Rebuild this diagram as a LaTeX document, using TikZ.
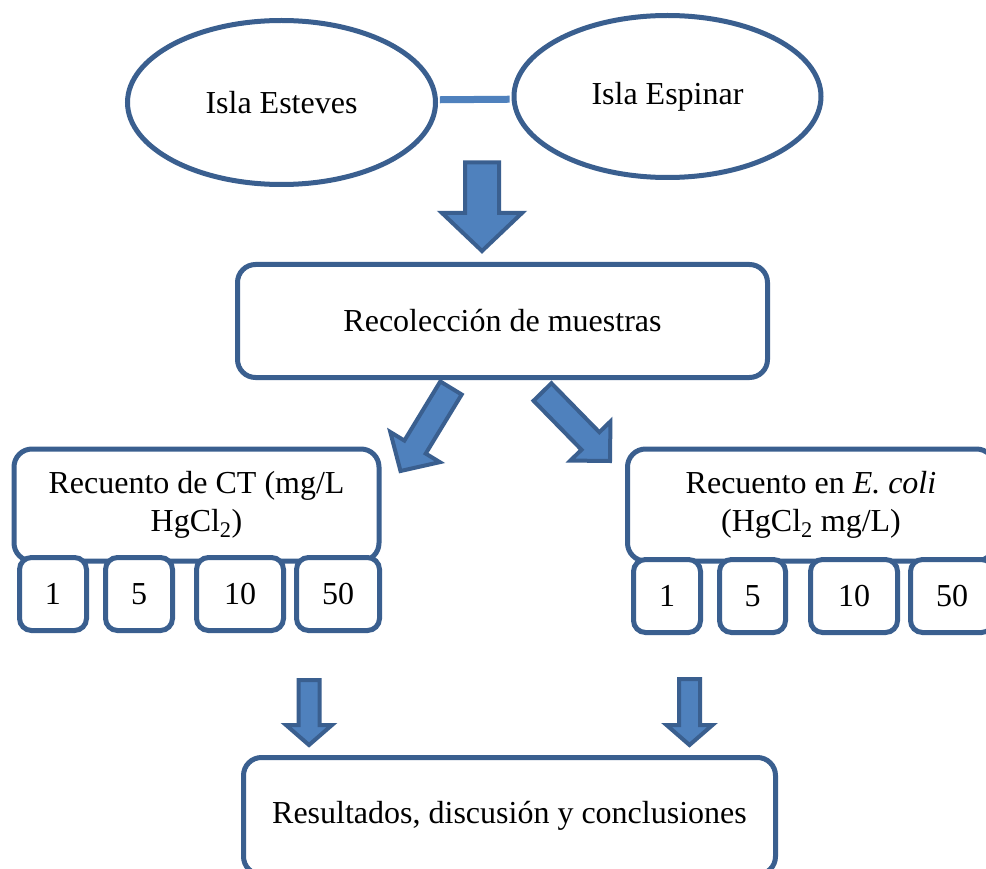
\documentclass[tikz,border=0pt]{standalone}
\usepackage{fontspec}
\setmainfont{Liberation Serif}
\usetikzlibrary{calc,shapes.geometric}
\definecolor{edgeblue}{HTML}{3A5F8F}
\definecolor{fillblue}{HTML}{4F81BD}
\tikzset{
  txt/.style={font=\fontsize{32}{38}\selectfont, align=center, text=black},
  box/.style={txt, draw=edgeblue, line width=5pt, rounded corners=18pt, fill=white, inner sep=0pt},
  numbox/.style={box, rounded corners=12pt},
  isle/.style={txt, ellipse, draw=edgeblue, line width=5pt, fill=white, inner sep=0pt},
  barrow/.style={draw=edgeblue, fill=fillblue, line width=4pt, line join=miter},
  link/.style={draw=fillblue, line width=7pt}
}
% #1 tail, #2 tip, #3 shaft half width, #4 head half width, #5 head length
\newcommand\blockarrow[5]{%
  \path[barrow] ($(#1)!#3!90:(#2)$)
    -- ($(#2)!#5!(#1)!#3!-90:(#1)$)
    -- ($(#2)!#5!(#1)!#4!-90:(#1)$)
    -- (#2)
    -- ($(#2)!#5!(#1)!#4!90:(#1)$)
    -- ($(#2)!#5!(#1)!#3!90:(#1)$)
    -- ($(#1)!#3!-90:(#2)$) -- cycle;}
\begin{document}
\begin{tikzpicture}[x=1pt,y=-1pt]
\clip (0,0) rectangle (986,869);
\fill[white] (0,0) rectangle (986,869);

% islands
\node[isle, minimum width=308pt, minimum height=164pt] (e1) at (281.5,102.5) {Isla Esteves};
\node[isle, minimum width=307pt, minimum height=162pt] (e2) at (667.5,96.5) {Isla Espinar};
\draw[link, shorten <=2pt, shorten >=2pt] (e1.1) -- (e2.181);

% main boxes
\node[box, minimum width=530pt, minimum height=113pt] (col) at (502.5,321) {Recolección de muestras};
\node[box, minimum width=365pt, minimum height=112pt] (ct) at (196.5,505) {Recuento de CT (mg/L\\HgCl\textsubscript{2})};
\node[box, minimum width=367pt, minimum height=112pt] (ec) at (811,505) {Recuento en \textit{E. coli}\\(HgCl\textsubscript{2} mg/L)};
\node[box, minimum width=532pt, minimum height=117pt] (res) at (509.5,816) {Resultados, discusión y conclusiones};

% concentration boxes
\node[numbox, minimum width=67pt, minimum height=73pt] (l1) at (53,594) {1};
\node[numbox, minimum width=67pt, minimum height=73pt] (l5) at (139,594) {5};
\node[numbox, minimum width=87pt, minimum height=73pt] (l10) at (240,594) {10};
\node[numbox, minimum width=83pt, minimum height=73pt] (l50) at (338,594) {50};
\node[numbox, minimum width=67pt, minimum height=73pt] (r1) at (667,596) {1};
\node[numbox, minimum width=66pt, minimum height=73pt] (r5) at (752.5,596) {5};
\node[numbox, minimum width=87pt, minimum height=73pt] (r10) at (854,596) {10};
\node[numbox, minimum width=83pt, minimum height=73pt] (r50) at (952,596) {50};

% block arrows
\coordinate (a1t) at (482,162.5); \coordinate (a1h) at (482,251);
\blockarrow{a1t}{a1h}{17pt}{40pt}{38pt}
\coordinate (a2t) at (451,388); \coordinate (a2h) at (400.5,471);
\blockarrow{a2t}{a2h}{12.5pt}{29pt}{28pt}
\coordinate (a3t) at (542.5,392); \coordinate (a3h) at (610,461);
\blockarrow{a3t}{a3h}{12.5pt}{28pt}{28pt}
\coordinate (a4t) at (309,680); \coordinate (a4h) at (309,745);
\blockarrow{a4t}{a4h}{10.5pt}{23pt}{20pt}
\coordinate (a5t) at (689.5,679); \coordinate (a5h) at (689.5,745);
\blockarrow{a5t}{a5h}{10.5pt}{23pt}{20pt}
\end{tikzpicture}
\end{document}
